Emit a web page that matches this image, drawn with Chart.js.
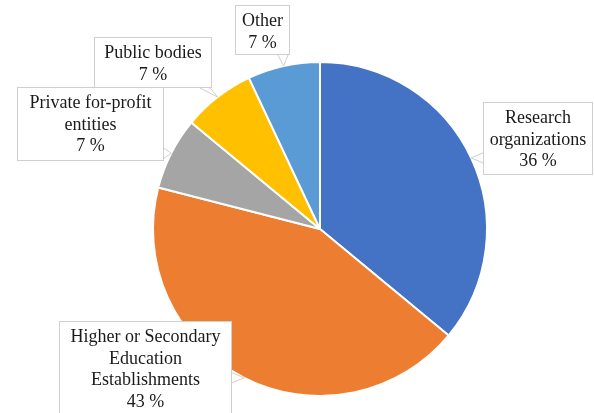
<!DOCTYPE html>
<html>
<head>
<meta charset="utf-8">
<script src="https://cdn.jsdelivr.net/npm/chart.js@4.4.0/dist/chart.umd.min.js"></script>
<style>
  html, body { margin: 0; padding: 0; background: #fff; }
  #wrap { width: 594px; height: 413px; }
</style>
</head>
<body>
<div id="wrap"><canvas id="pie" width="594" height="413"></canvas></div>
<script>
// Chart data
const categories = [
    ['Research', 'organizations'],
    ['Higher or Secondary', 'Education', 'Establishments'],
    ['Private for-profit', 'entities'],
    ['Public bodies'],
    ['Other']
];
const shares = [36, 43, 7, 7, 7]; // percent
const sliceColors = ['#4472C4', '#ED7D31', '#A5A5A5', '#FFC000', '#5B9BD5'];

// Where each callout box sits, and which edge its pointer leaves from
const calloutBoxes = [
    { x: 483, y: 102, w: 110, h: 73, side: 'left' },
    { x: 59, y: 321, w: 173, h: 100, side: 'right' },
    { x: 17, y: 87, w: 147, h: 74, side: 'right' },
    { x: 94, y: 37, w: 118, h: 51, side: 'bottom' },
    { x: 235, y: 5, w: 55, h: 50, side: 'bottom' }
];

const calloutPlugin = {
    id: 'callouts',
    afterDatasetsDraw(chart) {
        const ctx = chart.ctx;
        const meta = chart.getDatasetMeta(0);
        ctx.save();
        ctx.font = '18px "Liberation Serif", "Times New Roman", serif';
        ctx.textAlign = 'center';
        ctx.textBaseline = 'middle';
        meta.data.forEach(function (arc, i) {
            const b = calloutBoxes[i];
            const mid = (arc.startAngle + arc.endAngle) / 2;
            const ax = arc.x + Math.cos(mid) * arc.outerRadius;
            const ay = arc.y + Math.sin(mid) * arc.outerRadius;

            // wedge base on the chosen edge, as close to the anchor as fits
            let p1, p2;
            const half = 5;
            if (b.side === 'left' || b.side === 'right') {
                const ex = b.side === 'left' ? b.x : b.x + b.w;
                const cy = Math.min(Math.max(ay, b.y + half + 2), b.y + b.h - half - 2);
                p1 = [ex, cy - half]; p2 = [ex, cy + half];
            } else {
                const ey = b.side === 'top' ? b.y : b.y + b.h;
                const cx = Math.min(Math.max(ax, b.x + half + 2), b.x + b.w - half - 2);
                p1 = [cx - half, ey]; p2 = [cx + half, ey];
            }

            // box
            ctx.fillStyle = '#ffffff';
            ctx.strokeStyle = '#cfcfcf';
            ctx.lineWidth = 1;
            ctx.fillRect(b.x, b.y, b.w, b.h);
            ctx.strokeRect(b.x + 0.5, b.y + 0.5, b.w - 1, b.h - 1);

            // pointer
            ctx.beginPath();
            ctx.moveTo(p1[0], p1[1]);
            ctx.lineTo(ax, ay);
            ctx.lineTo(p2[0], p2[1]);
            ctx.closePath();
            ctx.fill();
            ctx.beginPath();
            ctx.moveTo(p1[0], p1[1]);
            ctx.lineTo(ax, ay);
            ctx.lineTo(p2[0], p2[1]);
            ctx.stroke();

            // text
            const lines = categories[i].concat([shares[i] + ' %']);
            const lh = 21.5;
            const top = b.y + 6 + lh / 2;
            ctx.fillStyle = '#1a1a1a';
            lines.forEach(function (t, k) {
                ctx.fillText(t, b.x + b.w / 2, top + k * lh);
            });
        });
        ctx.restore();
    }
};

new Chart(document.getElementById('pie').getContext('2d'), {
    type: 'pie',
    data: {
        labels: categories,
        datasets: [{
            data: shares,
            backgroundColor: sliceColors,
            borderColor: '#ffffff',
            borderWidth: 2
        }]
    },
    options: {
        responsive: false,
        animation: false,
        layout: { padding: { top: 61, bottom: 16, left: 152, right: 106 } },
        plugins: {
            legend: { display: false },
            tooltip: { enabled: false }
        }
    },
    plugins: [calloutPlugin]
});
</script>
</body>
</html>
